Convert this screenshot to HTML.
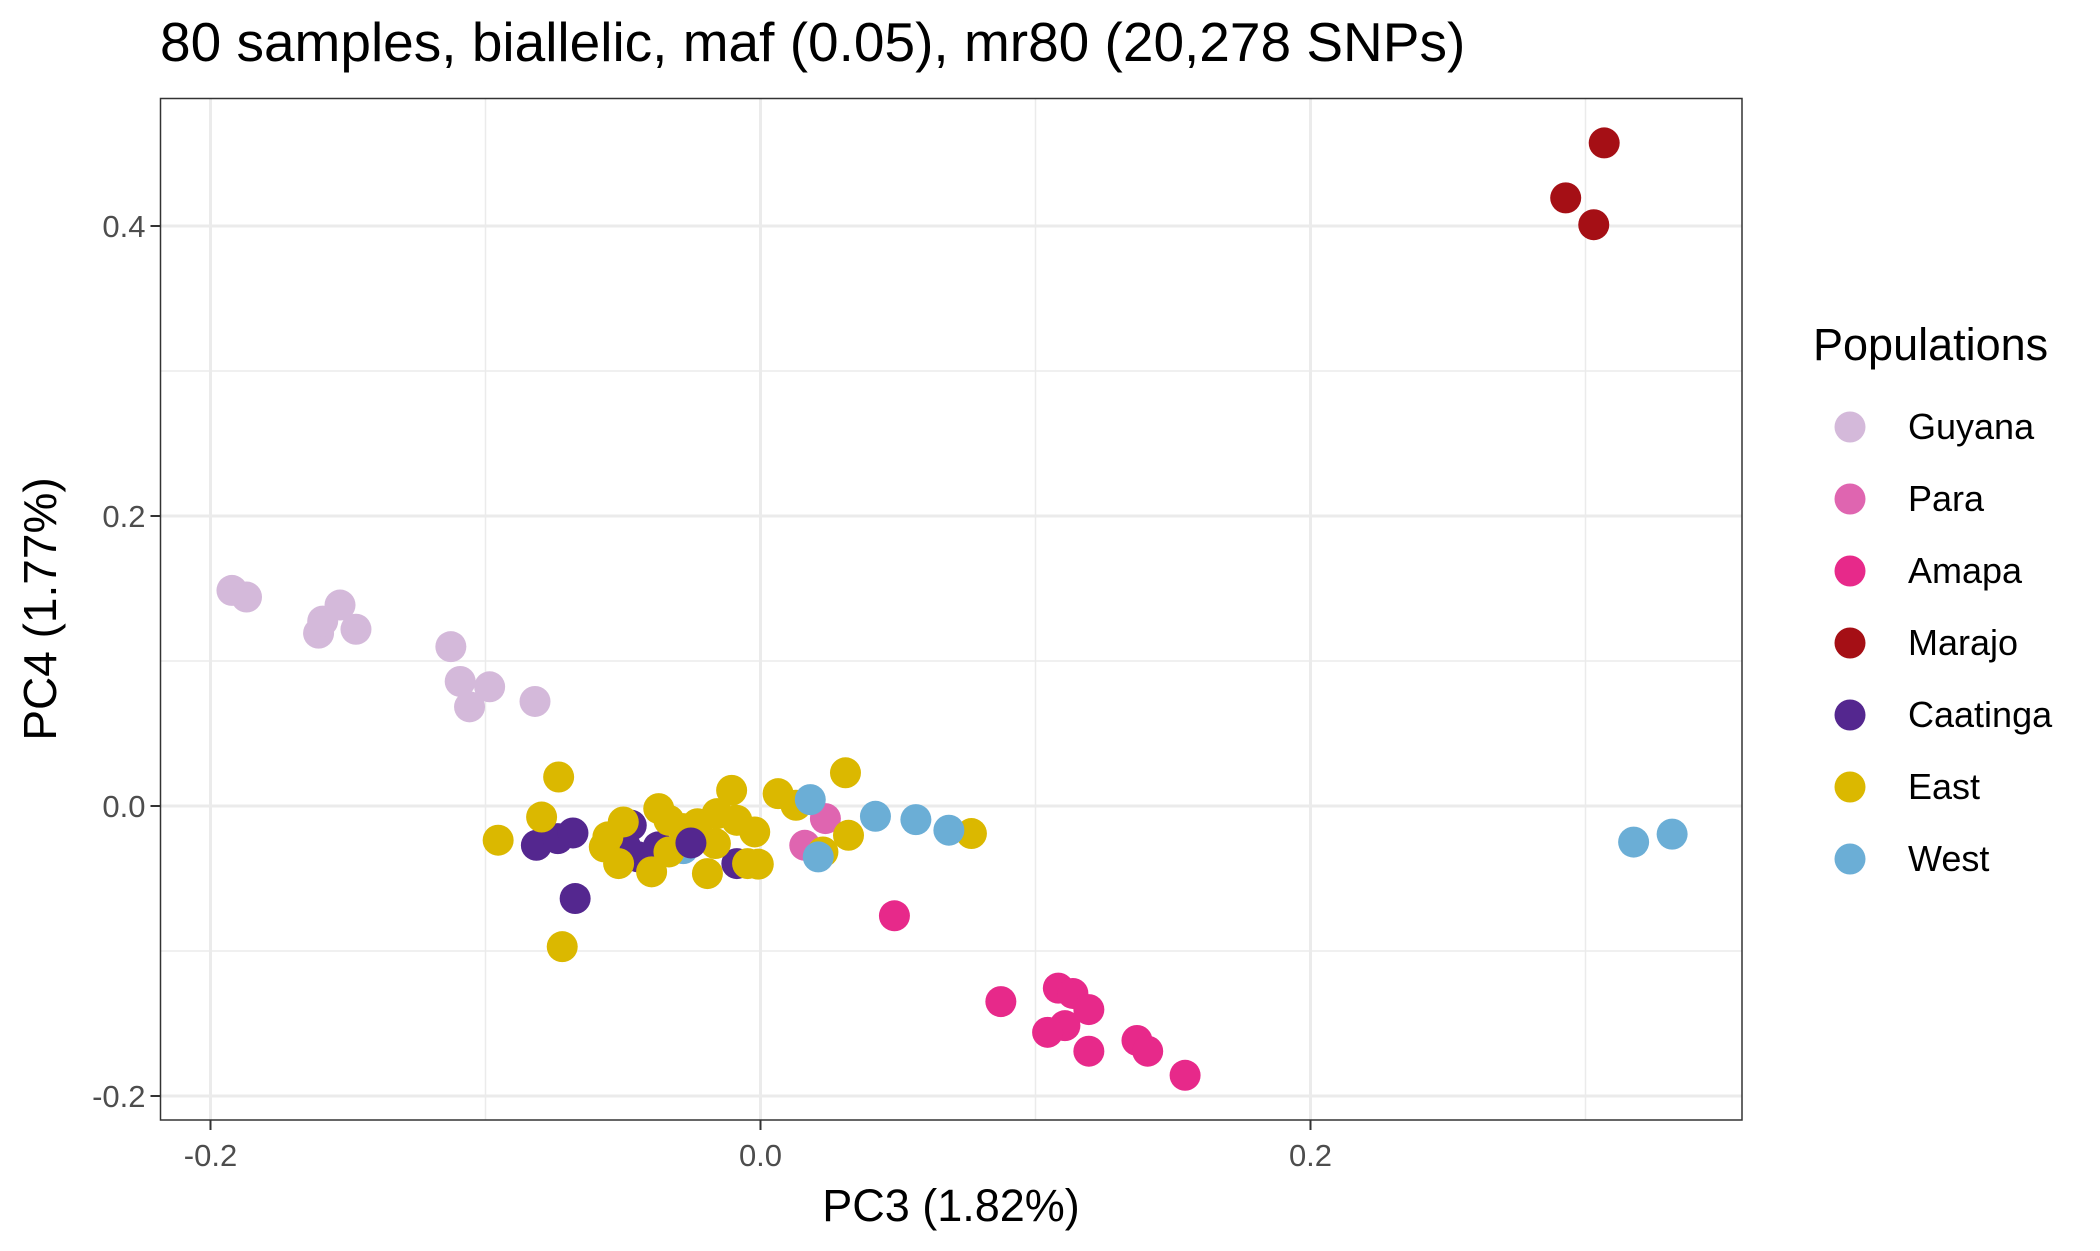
<!DOCTYPE html>
<html><head><meta charset="utf-8">
<style>
html,body{margin:0;padding:0;background:#fff;}
svg{display:block;font-family:"Liberation Sans",Arial,sans-serif;}
</style></head>
<body>
<svg id="chart" width="2100" height="1251" viewBox="0 0 2100 1251" xmlns="http://www.w3.org/2000/svg">
<rect x="0" y="0" width="2100" height="1251" fill="#fff"/>
<text x="160" y="61" font-size="55" fill="#000">80 samples, biallelic, maf (0.05), mr80 (20,278 SNPs)</text>
<g id="grid"></g>
<g id="points"></g>
<rect x="160.5" y="98.5" width="1581.5" height="1021.5" fill="none" stroke="#333" stroke-width="1.5"/>
<g id="axes"></g>
<text x="951" y="1221" font-size="45" text-anchor="middle" fill="#000">PC3 (1.82%)</text>
<text transform="translate(56,609) rotate(-90)" font-size="46" text-anchor="middle" fill="#000">PC4 (1.77%)</text>
<g id="legend"></g>
</svg>
<script>
const groupNames = ["Guyana","Para","Amapa","Marajo","Caatinga","East","West"];
const groupColors = ["#d4b9da","#df65b0","#e7298a","#a50f15","#54278f","#dbb800","#6baed6"];
const xTicks = [-0.2, 0.0, 0.2];
const xTickLabels = ["-0.2","0.0","0.2"];
const yTicks = [-0.2, 0.0, 0.2, 0.4];
const yTickLabels = ["-0.2","0.0","0.2","0.4"];
const xMinor = [-0.1, 0.1, 0.3];
const yMinor = [-0.1, 0.1, 0.3];

const guyanaX = [-0.1922,-0.1869,-0.1607,-0.1592,-0.1529,-0.1471,-0.1126,-0.1092,-0.1058,-0.0985,-0.0820];
const guyanaY = [0.1487,0.1441,0.1192,0.1275,0.1386,0.1219,0.1099,0.0859,0.0684,0.0822,0.0721];
const paraX = [0.0236,0.0161];
const paraY = [-0.0087,-0.0271];
const amapaX = [0.0487,0.0874,0.1083,0.1136,0.1194,0.1107,0.1044,0.1194,0.1369,0.1408,0.1544];
const amapaY = [-0.0757,-0.1349,-0.1256,-0.1293,-0.1404,-0.1515,-0.1561,-0.1691,-0.1617,-0.1691,-0.1857];
const marajoX = [0.3068,0.2928,0.3030];
const marajoY = [0.4573,0.4194,0.4009];
const westHiddenX = [-0.0281];
const westHiddenY = [-0.0294];
const caatingaX = [-0.0815,-0.0737,-0.0682,-0.0470,-0.0444,-0.0372,-0.0086,-0.0674,-0.0490];
const caatingaY = [-0.0271,-0.0225,-0.0186,-0.0133,-0.0351,-0.0282,-0.0397,-0.0638,-0.0282];
const eastX = [-0.0734,-0.0796,-0.0954,-0.0499,-0.0555,-0.0568,-0.0516,-0.0370,-0.0333,-0.0396,-0.0333,-0.0105,-0.0158,-0.0086,-0.0021,-0.0193,-0.0047,-0.0008,-0.0229,-0.0164,0.0064,0.0129,0.0309,0.0320,0.0227,0.0767,-0.0721,-0.0281];
const eastY = [0.0200,-0.0076,-0.0236,-0.0110,-0.0213,-0.0282,-0.0397,-0.0018,-0.0099,-0.0454,-0.0317,0.0108,-0.0053,-0.0099,-0.0179,-0.0466,-0.0397,-0.0401,-0.0122,-0.0259,0.0085,0.0005,0.0229,-0.0202,-0.0317,-0.0190,-0.0970,-0.0156];
const caatingaTopX = [-0.0253];
const caatingaTopY = [-0.0255];
const westX = [0.0181,0.0418,0.0565,0.0685,0.0210,0.3175,0.3315];
const westY = [0.0044,-0.0071,-0.0094,-0.0167,-0.0351,-0.0249,-0.0194];

const NS = "http://www.w3.org/2000/svg";
const X0 = 760.5, XS = 2750;
const Y0 = 806, YS = 1450;
const PL = 160.5, PR = 1742, PT = 98.5, PB = 1120;
function sx(v){ return X0 + v*XS; }
function sy(v){ return Y0 - v*YS; }
function mk(tag, attrs, parent){
  const e = document.createElementNS(NS, tag);
  for (const k in attrs) e.setAttribute(k, attrs[k]);
  parent.appendChild(e);
  return e;
}
const grid = document.getElementById("grid");
mk("rect",{x:PL,y:PT,width:PR-PL,height:PB-PT,fill:"#fff"},grid);
xMinor.forEach(v=>{
  const l = mk("line",{x1:sx(v),x2:sx(v),y1:PT,y2:PB,stroke:"#ebebeb","stroke-width":1.5},grid);
  
  
});
yMinor.forEach(v=>{
  const l = mk("line",{x1:PL,x2:PR,y1:sy(v),y2:sy(v),stroke:"#ebebeb","stroke-width":1.5},grid);
  
  
});
xTicks.forEach(v=>{
  const l = mk("line",{x1:sx(v),x2:sx(v),y1:PT,y2:PB,stroke:"#ebebeb","stroke-width":3},grid);
  
  
});
yTicks.forEach(v=>{
  const l = mk("line",{x1:PL,x2:PR,y1:sy(v),y2:sy(v),stroke:"#ebebeb","stroke-width":3},grid);
  
  
});

const pts = document.getElementById("points");
function drawGroup(xs, ys, gi){
  xs.forEach((x,i)=>{
    const c = mk("circle",{cx:sx(x),cy:sy(ys[i]),r:15.5,fill:groupColors[gi]},pts);
    
    
  });
}
drawGroup(guyanaX, guyanaY, 0);
drawGroup(marajoX, marajoY, 3);
drawGroup(amapaX, amapaY, 2);
drawGroup(paraX, paraY, 1);
drawGroup(westHiddenX, westHiddenY, 6);
drawGroup(caatingaX, caatingaY, 4);
drawGroup(eastX, eastY, 5);
drawGroup(caatingaTopX, caatingaTopY, 4);
drawGroup(westX, westY, 6);

const axes = document.getElementById("axes");
xTicks.forEach((v,i)=>{
  const t = mk("line",{x1:sx(v),x2:sx(v),y1:PB,y2:PB+10,stroke:"#333","stroke-width":2},axes);
  
  
  const l = mk("text",{x:sx(v),y:PB+46,"font-size":31,"text-anchor":"middle",fill:"#4d4d4d"},axes);
  l.textContent = xTickLabels[i];
  
  
});
yTicks.forEach((v,i)=>{
  const t = mk("line",{x1:PL-10,x2:PL,y1:sy(v),y2:sy(v),stroke:"#333","stroke-width":2},axes);
  
  
  const l = mk("text",{x:PL-15,y:sy(v)+11,"font-size":31,"text-anchor":"end",fill:"#4d4d4d"},axes);
  l.textContent = yTickLabels[i];
  
  
});

const leg = document.getElementById("legend");
const lt = mk("text",{x:1813,y:360,"font-size":45,fill:"#000"},leg);
lt.textContent = "Populations";


groupNames.forEach((n,i)=>{
  const y = 427 + i*72;
  const g = mk("g",{},leg);
  
  
  const c = mk("circle",{cx:1850,cy:y,r:15.5,fill:groupColors[i]},g);
  
  
  const t = mk("text",{x:1908,y:y+12,"font-size":36,fill:"#000"},g);
  t.textContent = n;
  
  
});
</script>
</body></html>
